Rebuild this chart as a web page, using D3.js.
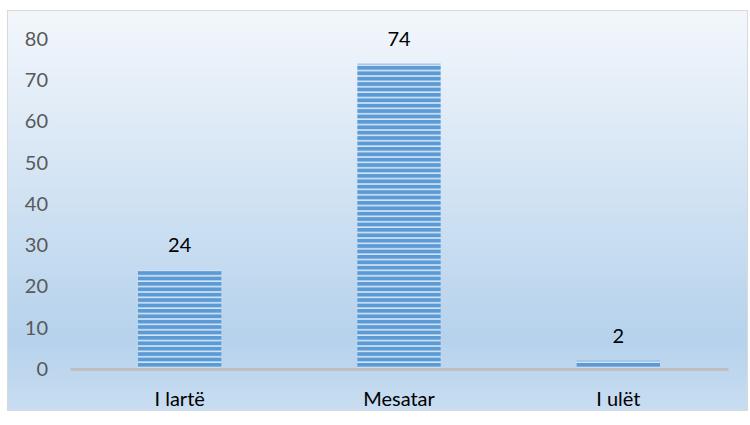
<!DOCTYPE html>
<html>
<head>
<meta charset="utf-8">
<script src="https://cdn.jsdelivr.net/npm/d3@7"></script>
<style>
  body { margin: 0; background: #fff; }
  text { font-family: Lato, "Open Sans", sans-serif; }
</style>
</head>
<body>
<div id="chart"></div>
<script>
const categories = ['I lartë', 'Mesatar', 'I ulët']
const values = [24, 74, 2]
const yTicks = [0, 10, 20, 30, 40, 50, 60, 70, 80]

const dms = {
    width: 750,
    height: 425,
    margin: { top: 39, right: 22, bottom: 56, left: 70 }
}
dms.contentWidth = dms.width - dms.margin.left - dms.margin.right
dms.contentHeight = dms.height - dms.margin.top - dms.margin.bottom

const svg = d3.select('#chart').append('svg')
    .attr('width', dms.width)
    .attr('height', dms.height)

const defs = svg.append('defs')

const bg = defs.append('linearGradient')
    .attr('id', 'bg')
    .attr('x1', 0).attr('y1', 0).attr('x2', 0).attr('y2', 1)
bg.append('stop').attr('offset', '0%').attr('stop-color', '#f3f7fc')
bg.append('stop').attr('offset', '82%').attr('stop-color', '#b6d2ec')
bg.append('stop').attr('offset', '100%').attr('stop-color', '#c8ddf1')

const stripes = defs.append('pattern')
    .attr('id', 'stripes')
    .attr('patternUnits', 'userSpaceOnUse')
    .attr('width', 10)
    .attr('height', 5.4)
stripes.append('rect')
    .attr('width', 10).attr('height', 5.4)
    .attr('fill', '#5b9bd5')
stripes.append('rect')
    .attr('y', 3.8)
    .attr('width', 10).attr('height', 1.6)
    .attr('fill', '#d6e5f4')

// chart area background + frame
svg.append('rect')
    .attr('x', 7.5).attr('y', 10.5)
    .attr('width', 740).attr('height', 400)
    .attr('fill', 'url(#bg)')
    .attr('stroke', '#d9d9d9')
    .attr('stroke-width', 1)

const content = svg.append('g')
    .attr('transform', `translate(${dms.margin.left},${dms.margin.top})`)

const xScale = d3.scaleBand()
    .domain(categories)
    .range([0, dms.contentWidth])
    .paddingInner(0.62)
    .paddingOuter(0.31)

const yScale = d3.scaleLinear()
    .domain([0, 80])
    .range([dms.contentHeight, 0])

// y axis labels
const yAxis = content.append('g')
    .call(d3.axisLeft(yScale).tickValues(yTicks).tickSize(0).tickPadding(22))
yAxis.select('.domain').remove()
yAxis.selectAll('text')
    .attr('font-size', 20)
    .attr('fill', '#595959')
    .style('font-family', 'Lato, "Open Sans", sans-serif')

// bars
content.selectAll('rect.bar')
    .data(values)
    .join('rect')
    .attr('class', 'bar')
    .attr('x', (d, i) => xScale(categories[i]))
    .attr('y', d => yScale(d))
    .attr('width', xScale.bandwidth())
    .attr('height', d => dms.contentHeight - yScale(d))
    .attr('fill', 'url(#stripes)')

// value labels
content.selectAll('text.val')
    .data(values)
    .join('text')
    .attr('class', 'val')
    .attr('x', (d, i) => xScale(categories[i]) + xScale.bandwidth() / 2)
    .attr('y', d => yScale(d) - 18)
    .attr('text-anchor', 'middle')
    .attr('font-size', 20)
    .attr('fill', '#000')
    .text(d => d)

// x axis
const xAxis = content.append('g')
    .attr('transform', `translate(0,${dms.contentHeight})`)
    .call(d3.axisBottom(xScale).tickSize(0).tickPadding(23))
xAxis.select('.domain')
    .attr('stroke', '#bfbfbf')
    .attr('stroke-width', 3)
xAxis.selectAll('text')
    .attr('font-size', 20)
    .attr('fill', '#000')
    .style('font-family', 'Lato, "Open Sans", sans-serif')
</script>
</body>
</html>
